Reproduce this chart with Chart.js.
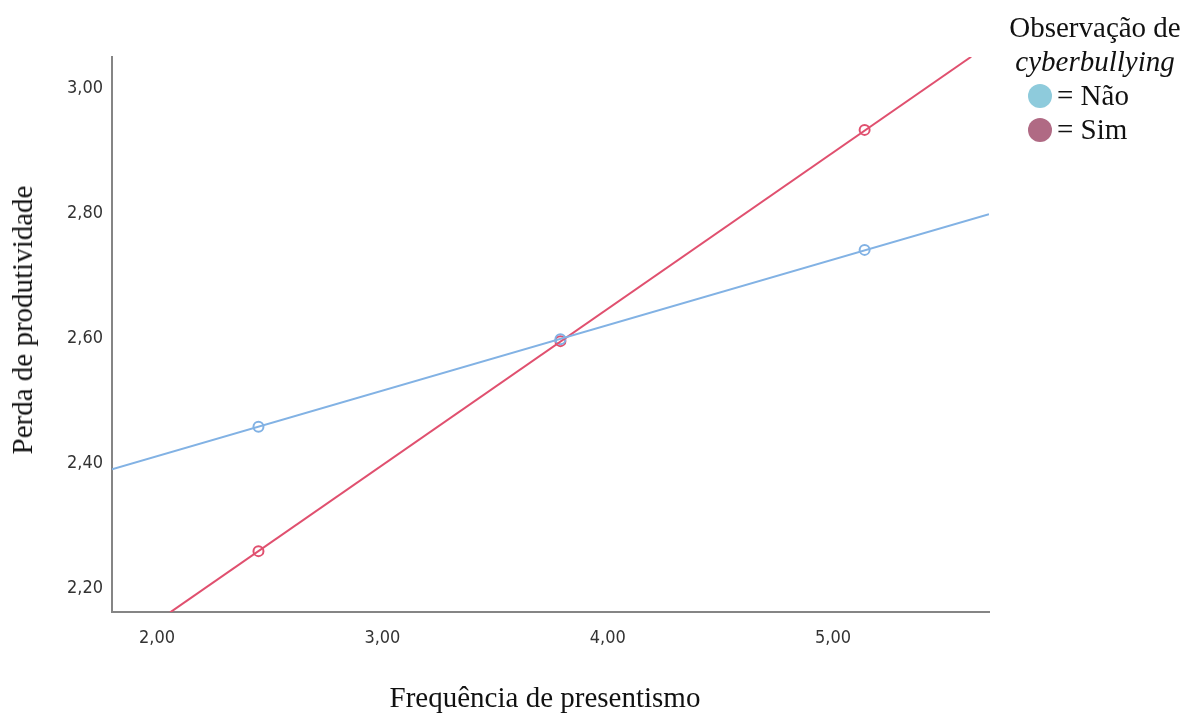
<!DOCTYPE html>
<html>
<head>
<meta charset="utf-8">
<script src="https://cdn.jsdelivr.net/npm/chart.js@4"></script>
<style>
  body { margin: 0; background: #fff; }
  #wrap { position: relative; width: 1191px; height: 713px; font-family: "Liberation Serif", "Times New Roman", serif; color: #111; }
  #chart { position: absolute; left: 0; top: 0; }
  .ttl { position: absolute; font-size: 29px; white-space: nowrap; line-height: 34px; }
  #xTitle { left: 0; width: 1090px; text-align: center; top: 680px; }
  #yTitle { left: 22px; top: 320px; transform: translate(-50%, -50%) rotate(-90deg); }
  #legend { position: absolute; left: 995px; top: 10px; width: 200px; text-align: center; font-size: 29px; line-height: 34px; }
  #legend .row { text-align: left; padding-left: 33px; }
  #legend .dot { display: inline-block; width: 24px; height: 24px; border-radius: 50%; vertical-align: -3px; margin-right: 5px; }
</style>
</head>
<body>
<div id="wrap">
  <canvas id="chart" width="1191" height="713"></canvas>
  <div class="ttl" id="xTitle">Frequência de presentismo</div>
  <div class="ttl" id="yTitle">Perda de produtividade</div>
  <div id="legend">
    <div>Observação de</div>
    <div><i>cyberbullying</i></div>
    <div class="row"><span class="dot" style="background:#8ecbdc"></span>= Não</div>
    <div class="row"><span class="dot" style="background:#b06a84"></span>= Sim</div>
  </div>
</div>
<script>
// observed group means (x = presentismo level, y = perda de produtividade)
const pointX = [2.45, 3.79, 5.14];
const naoY = [2.458, 2.598, 2.741];
const simY = [2.259, 2.595, 2.933];

// fit line endpoints
const naoLineX = [1.80, 5.692];
const naoLineY = [2.390, 2.798];
const simLineX = [2.058, 5.613];
const simLineY = [2.161, 3.050];

const xTicks = [2, 3, 4, 5];
const yTicks = [2.2, 2.4, 2.6, 2.8, 3.0];

const blue = "#82b2e4";
const red = "#e0506f";

const pts = (xs, ys) => xs.map((x, i) => ({ x: x, y: ys[i] }));
const fmt = v => v.toFixed(2).replace(".", ",");
const tickFont = { family: "'DejaVu Sans Condensed', sans-serif", size: 18 };

new Chart(document.getElementById("chart"), {
  type: "scatter",
  data: {
    datasets: [
      { type: "line", data: pts(naoLineX, naoLineY), borderColor: blue, borderWidth: 2, pointRadius: 0 },
      { type: "line", data: pts(simLineX, simLineY), borderColor: red, borderWidth: 2, pointRadius: 0 },
      { data: pts(pointX, naoY), borderColor: blue, backgroundColor: "transparent", borderWidth: 2, pointRadius: 5 },
      { data: pts(pointX, simY), borderColor: red, backgroundColor: "transparent", borderWidth: 2, pointRadius: 5 },
    ],
  },
  options: {
    responsive: false,
    animation: false,
    layout: { padding: { left: 0, top: 57, right: 202, bottom: 0 } },
    plugins: { legend: { display: false }, tooltip: { enabled: false } },
    scales: {
      x: {
        type: "linear",
        min: 1.80,
        max: 5.692,
        afterBuildTicks: (s) => { s.ticks = xTicks.map(v => ({ value: v })); },
        afterFit: (s) => { s.height = 101; },
        grid: { display: false, drawTicks: false },
        border: { color: "#858585", width: 2 },
        ticks: { callback: fmt, color: "#333", padding: 16, maxRotation: 0, font: tickFont },
      },
      y: {
        type: "linear",
        min: 2.1616,
        max: 3.0496,
        afterBuildTicks: (s) => { s.ticks = yTicks.map(v => ({ value: v })); },
        afterFit: (s) => { s.width = 112; },
        grid: { display: false, drawTicks: false },
        border: { color: "#858585", width: 2 },
        ticks: { callback: fmt, color: "#333", padding: 9, font: tickFont },
      },
    },
  },
});
</script>
</body>
</html>
